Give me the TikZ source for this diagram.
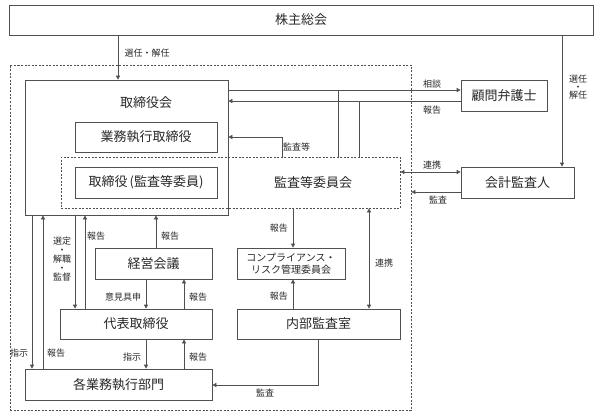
\documentclass[tikz,border=0pt]{standalone}
\usepackage{fontspec}
\setmainfont{Noto Sans CJK JP}
\usepackage{tikz}
\usetikzlibrary{arrows.meta, calc}
\definecolor{linegray}{RGB}{80, 80, 80}
\definecolor{textgray}{RGB}{40, 40, 40}

\begin{document}
\begin{tikzpicture}[x=1pt, y=-1pt,
  box/.style={draw=linegray, line width=0.7pt, fill=white, inner sep=0pt, text=textgray, font=\fontsize{13}{14}\selectfont},
  dbox/.style={draw=linegray, line width=0.7pt, dash pattern=on 2pt off 1.5pt, inner sep=0pt},
  lbl/.style={inner sep=0pt, text=textgray, font=\fontsize{9}{10}\selectfont, align=center},
  arr/.style={draw=linegray, line width=0.7pt, -{Triangle[length=4pt, width=4pt]}},
  arrb/.style={draw=linegray, line width=0.7pt, {Triangle[length=4pt, width=4pt]}-{Triangle[length=4pt, width=4pt]}},
  ln/.style={draw=linegray, line width=0.7pt}]
  \useasboundingbox (0,0) rectangle (599,417);

  % company frame
  \node[dbox, minimum width=401pt, minimum height=345pt] (gaibu) at (210.5, 237.5) {};

  % shareholders
  \node[box, minimum width=584pt, minimum height=30pt] (kabu) at (301, 20) {株主総会};

  % board
  \node[box, minimum width=203pt, minimum height=135pt] (tori) at (126.5, 147.5) {};
  \node[lbl, font=\fontsize{13}{14}\selectfont] (toritxt) at (146, 103) {取締役会};
  \node[box, minimum width=142pt, minimum height=30pt] (gyomu) at (146, 137) {業務執行取締役};

  % audit committee
  \node[dbox, minimum width=339pt, minimum height=51pt] (kansa) at (230.5, 182.5) {};
  \node[lbl, font=\fontsize{13}{14}\selectfont] (kansatxt) at (313, 182.5) {監査等委員会};
  \node[box, minimum width=142pt, minimum height=31pt] (torik) at (146, 182.5) {取締役\,(監査等委員)};

  % outside
  \node[box, minimum width=86pt, minimum height=31pt] (komon) at (504, 95.5) {顧問弁護士};
  \node[box, minimum width=113pt, minimum height=31pt] (kaikei) at (517.5, 182.5) {会計監査人};

  % inside
  \node[box, minimum width=117pt, minimum height=31pt] (keiei) at (153.5, 263.5) {経営会議};
  \node[box, minimum width=108pt, minimum height=31pt, align=center, font=\fontsize{10}{12}\selectfont] (comp) at (291, 263.5) {コンプライアンス・\\リスク管理委員会};
  \node[box, minimum width=152pt, minimum height=30pt] (daihyo) at (136, 324) {代表取締役};
  \node[box, minimum width=163pt, minimum height=30pt] (naibu) at (318.5, 324) {内部監査室};
  \node[box, minimum width=187pt, minimum height=31pt] (kakubu) at (118.5, 384.5) {各業務執行部門};

  % shareholders -> board, auditor
  \draw[arr] (118,0 |- kabu.south) -- (118,0 |- tori.north);
  \node[lbl] (l1) at (147, 53) {選任・解任};
  \draw[arr] (562,0 |- kabu.south) -- (562,0 |- kaikei.north);
  \node[lbl] (l2) at (578, 87) {選任\\[-2pt]・\\[-2pt]解任};

  % lawyer
  \draw[arr] (tori.east |- 0,90) -- (komon.west |- 0,90);
  \draw[arr] (komon.west |- 0,101) -- (tori.east |- 0,101);
  \draw[ln] (338,0 |- kansa.north) -- (338,90);
  \draw[ln] (359,0 |- kansa.north) -- (359,101);
  \node[lbl] (l3) at (432, 84) {相談};
  \node[lbl] (l4) at (432, 110) {報告};

  % audit committee -> board
  \draw[arr] (282,0 |- kansa.north) |- (tori.east |- 0,137);
  \node[lbl, anchor=west] (l5) at (283, 147) {監査等};

  % accounting auditor
  \draw[arrb] (kansa.east |- 0,172) -- (kaikei.west |- 0,172);
  \node[lbl] (l6) at (432, 165) {連携};
  \draw[arr] (kaikei.west |- 0,192) -- (gaibu.east |- 0,192);
  \node[lbl] (l7) at (438, 200) {監査};

  % compliance, internal audit
  \draw[arr] (293,0 |- kansa.south) -- (293,0 |- comp.north);
  \node[lbl, anchor=east] (l8) at (288, 228) {報告};
  \draw[arr] (293,0 |- naibu.north) -- (293,0 |- comp.south);
  \node[lbl, anchor=east] (l9) at (288, 296) {報告};
  \draw[arrb] (369,0 |- kansa.south) -- (369,0 |- naibu.north);
  \node[lbl] (l10) at (384, 263) {連携};
  \draw[arr] (318,0 |- naibu.south) |- (kakubu.east |- 0,385);
  \node[lbl] (l11) at (265, 393) {監査};

  % board <-> departments
  \draw[arr] (32,0 |- tori.south) -- (32,0 |- kakubu.north);
  \node[lbl] (l12) at (19, 353) {指示};
  \draw[arr] (43,0 |- kakubu.north) -- (43,0 |- tori.south);
  \node[lbl] (l13) at (56, 353) {報告};

  % board <-> representative director
  \draw[arr] (75,0 |- tori.south) -- (75,0 |- daihyo.north);
  \node[lbl] (l14) at (62, 259) {選定\\[-1pt]・\\[-1pt]解職\\[-1pt]・\\[-1pt]監督};
  \draw[arr] (85,0 |- daihyo.north) -- (85,0 |- tori.south);
  \node[lbl] (l15) at (96, 236) {報告};

  % management meeting
  \draw[arr] (156,0 |- keiei.north) -- (156,0 |- tori.south);
  \node[lbl] (l16) at (170, 236) {報告};
  \draw[arr] (146,0 |- keiei.south) -- (146,0 |- daihyo.north);
  \node[lbl] (l17) at (123, 297) {意見具申};
  \draw[arr] (184,0 |- daihyo.north) -- (184,0 |- keiei.south);
  \node[lbl] (l18) at (198, 297) {報告};

  % representative director <-> departments
  \draw[arr] (146,0 |- daihyo.south) -- (146,0 |- kakubu.north);
  \node[lbl] (l19) at (132, 357) {指示};
  \draw[arr] (184,0 |- kakubu.north) -- (184,0 |- daihyo.south);
  \node[lbl] (l20) at (198, 357) {報告};
\end{tikzpicture}
\end{document}
